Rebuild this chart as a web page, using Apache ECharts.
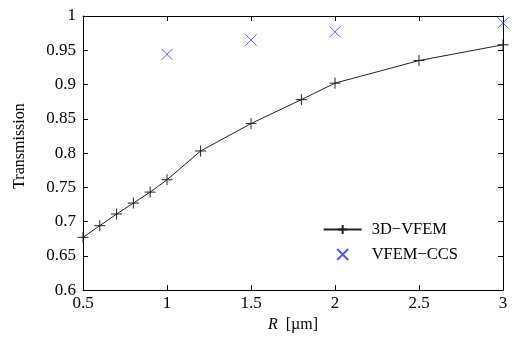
<!DOCTYPE html>
<html>
<head>
<meta charset="utf-8">
<script src="https://cdn.jsdelivr.net/npm/echarts@6/dist/echarts.min.js"></script>
<style>
  html, body { margin: 0; padding: 0; background: #fff; }
  #chart { width: 512px; height: 338px; }
</style>
</head>
<body>
<div id="chart"></div>
<script>
// 3D-VFEM curve
const vfemR = [0.5, 0.6, 0.7, 0.8, 0.9, 1.0, 1.2, 1.5, 1.8, 2.0, 2.5, 3.0];
const vfemT = [0.677, 0.694, 0.711, 0.727, 0.743, 0.761, 0.803, 0.843, 0.878, 0.902, 0.935, 0.958];
// VFEM-CCS points
const ccsR = [1.0, 1.5, 2.0, 3.0];
const ccsT = [0.944, 0.965, 0.977, 0.990];

const plusPath = 'path://M0,5 L10,5 M5,0 L5,10';
const crossPath = 'path://M0,0 L10,10 M10,0 L0,10';
const font = '"Liberation Serif", "DejaVu Serif", serif';

const zip = (xs, ys) => xs.map((x, i) => [x, ys[i]]);

const chart = echarts.init(document.getElementById('chart'));

const axisLine = { show: true, onZero: false, lineStyle: { color: '#000', width: 1 } };
const axisTick = { show: true, inside: true, length: 5, lineStyle: { color: '#000', width: 1 } };

chart.setOption({
    animation: false,
    backgroundColor: '#fff',
    textStyle: { fontFamily: font },
    grid: { left: 83, right: 9, top: 16, bottom: 43, containLabel: false },
    legend: {
        right: 49,
        top: 216,
        orient: 'vertical',
        itemWidth: 38,
        itemHeight: 11,
        itemGap: 8,
        textStyle: { fontFamily: font, fontSize: 16.5, color: '#000', padding: [0, 0, 0, 5] },
        data: ['3D\u2212VFEM', 'VFEM\u2212CCS']
    },
    xAxis: [
        {
            type: 'value',
            min: 0.5,
            max: 3,
            interval: 0.5,
            position: 'bottom',
            axisLine,
            axisTick,
            splitLine: { show: false },
            axisLabel: { color: '#000', fontSize: 17, fontFamily: font, margin: 5 },
            name: '{i|R}  [\u00b5m]',
            nameLocation: 'middle',
            nameGap: 24,
            nameTextStyle: {
                color: '#000', fontSize: 16, fontFamily: font,
                rich: { i: { fontStyle: 'italic', fontSize: 16, fontFamily: font, color: '#000' } }
            }
        },
        {
            type: 'value',
            min: 0.5,
            max: 3,
            interval: 0.5,
            position: 'top',
            axisLine,
            axisTick,
            splitLine: { show: false },
            axisLabel: { show: false }
        }
    ],
    yAxis: [
        {
            type: 'value',
            min: 0.6,
            max: 1,
            interval: 0.05,
            position: 'left',
            axisLine,
            axisTick,
            splitLine: { show: false },
            axisLabel: { color: '#000', fontSize: 17, fontFamily: font, margin: 7 },
            name: 'Transmission',
            nameLocation: 'middle',
            nameGap: 55,
            nameTextStyle: { color: '#000', fontSize: 16, fontFamily: font, padding: [0, 0, 0, 14] }
        },
        {
            type: 'value',
            min: 0.6,
            max: 1,
            interval: 0.05,
            position: 'right',
            axisLine,
            axisTick,
            splitLine: { show: false },
            axisLabel: { show: false }
        }
    ],
    series: [
        {
            name: '3D\u2212VFEM',
            type: 'line',
            data: zip(vfemR, vfemT),
            symbol: plusPath,
            symbolSize: 11,
            lineStyle: { color: '#222', width: 1 },
            itemStyle: { color: 'rgba(0,0,0,0)', borderColor: '#222', borderWidth: 1 },
            clip: false
        },
        {
            name: 'VFEM\u2212CCS',
            type: 'scatter',
            data: zip(ccsR, ccsT),
            symbol: crossPath,
            symbolSize: 11,
            itemStyle: { color: 'rgba(0,0,0,0)', borderColor: '#2a2aff', borderWidth: 1 },
            clip: false
        }
    ]
});
</script>
</body>
</html>
